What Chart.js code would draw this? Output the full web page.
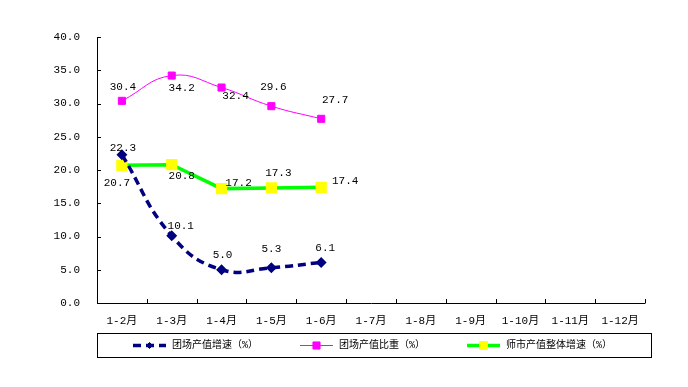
<!DOCTYPE html>
<html>
<head>
<meta charset="utf-8">
<script src="https://cdn.jsdelivr.net/npm/chart.js@4/dist/chart.umd.min.js"></script>
<style>
  html, body { margin: 0; padding: 0; background: #fff; }
  #wrap { width: 688px; height: 387px; }
</style>
</head>
<body>
<div id="wrap"><canvas id="myChart" width="688" height="387"></canvas></div>
<script>
// data
var months = ['1-2月', '1-3月', '1-4月', '1-5月', '1-6月', '1-7月', '1-8月', '1-9月', '1-10月', '1-11月', '1-12月'];
var tuanSpeed = [22.3, 10.1, 5.0, 5.3, 6.1, null, null, null, null, null, null];
var tuanShare = [30.4, 34.2, 32.4, 29.6, 27.7, null, null, null, null, null, null];
var shiSpeed = [20.7, 20.8, 17.2, 17.3, 17.4, null, null, null, null, null, null];
var yTicks = [0, 5, 10, 15, 20, 25, 30, 35, 40];

var FONT = '"Liberation Mono", "Noto Sans CJK SC", monospace';

// where each value label sits relative to its point (dx, dy)
var labelOffsets = [
    [[1, -7], [9, -10], [1, -15], [0, -19], [4, -14]],
    [[1, -14], [10, 13], [14, 9], [2, -19], [14, -19]],
    [[-5, 18], [10, 11], [17, -6], [7, -15], [24, -6]]
];

/* inner tick marks, value labels, legend box */
var extras = {
    id: 'extras',
    afterDatasetsDraw: function (chart) {
        var ctx = chart.ctx;
        var area = chart.chartArea;
        var x = chart.scales.x, y = chart.scales.y;
        ctx.save();
        ctx.strokeStyle = '#000';
        ctx.lineWidth = 1;
        ctx.beginPath();
        ctx.moveTo(area.left + 0.5, area.top);
        ctx.lineTo(area.left + 0.5, area.bottom + 0.5);
        ctx.lineTo(area.right + 0.5, area.bottom + 0.5);
        yTicks.forEach(function (v) {
            var py = Math.round(y.getPixelForValue(v)) + 0.5;
            ctx.moveTo(area.left, py);
            ctx.lineTo(area.left + 4, py);
        });
        var step = (area.right - area.left) / months.length;
        for (var i = 1; i <= months.length; i++) {
            var px = Math.round(area.left + i * step) + 0.5;
            ctx.moveTo(px, area.bottom);
            ctx.lineTo(px, area.bottom - 4);
        }
        ctx.stroke();

        // value labels
        ctx.fillStyle = '#000';
        ctx.font = '11px ' + FONT;
        ctx.textAlign = 'center';
        ctx.textBaseline = 'middle';
        chart.data.datasets.forEach(function (ds, di) {
            ds.data.forEach(function (v, i) {
                if (v === null) return;
                var off = labelOffsets[di][i];
                ctx.fillText(v.toFixed(1), x.getPixelForValue(i) + off[0], y.getPixelForValue(v) + off[1]);
            });
        });

        // legend
        var top = area.bottom + 30, h = 24;
        ctx.strokeStyle = '#000';
        ctx.strokeRect(area.left + 0.5, top + 0.5, area.right - area.left + 6, h);
        var starts = [133, 300, 467];
        ctx.textAlign = 'left';
        ctx.font = '10px ' + FONT;
        chart.data.datasets.forEach(function (ds, di) {
            var sx = starts[di], cy = top + h / 2 + 0.5;
            ctx.save();
            ctx.strokeStyle = ds.borderColor;
            ctx.lineWidth = ds.borderWidth;
            ctx.setLineDash(ds.borderDash || []);
            ctx.beginPath();
            ctx.moveTo(sx, cy);
            ctx.lineTo(sx + 33, cy);
            ctx.stroke();
            ctx.setLineDash([]);
            ctx.fillStyle = ds.pointBackgroundColor;
            ctx.strokeStyle = ds.pointBorderColor;
            ctx.lineWidth = 1;
            Chart.helpers.drawPoint(ctx, {
                pointStyle: ds.pointStyle, radius: ds.pointRadius, borderWidth: 1
            }, sx + 16.5, cy);
            ctx.restore();
            ctx.fillStyle = '#000';
            ctx.fillText(ds.label, sx + 39, cy);
        });
        ctx.restore();
    }
};

const ctx = document.getElementById('myChart');
const myChart = new Chart(ctx, {
    type: 'line',
    data: {
        labels: months,
        datasets: [{
            label: '团场产值增速（%）',
            data: tuanSpeed,
            borderColor: '#000080',
            backgroundColor: '#000080',
            pointBackgroundColor: '#000080',
            pointBorderColor: '#000080',
            borderWidth: 3.5,
            borderDash: [8, 5],
            pointStyle: 'rectRot',
            pointRadius: 3,
            tension: 0.45
        }, {
            label: '团场产值比重（%）',
            data: tuanShare,
            borderColor: '#FF00FF',
            backgroundColor: '#FF00FF',
            pointBackgroundColor: '#FF00FF',
            pointBorderColor: '#FF00FF',
            borderWidth: 1,
            pointStyle: 'rect',
            pointRadius: 5,
            tension: 0.45
        }, {
            label: '师市产值整体增速（%）',
            data: shiSpeed,
            borderColor: '#00FF00',
            backgroundColor: '#FFFF00',
            pointBackgroundColor: '#FFFF00',
            pointBorderColor: '#FFFF00',
            borderWidth: 3.5,
            pointStyle: 'rect',
            pointRadius: 5.5,
            tension: 0
        }]
    },
    options: {
        responsive: false,
        animation: false,
        events: [],
        layout: {
            padding: { left: 0, right: 43, top: 37, bottom: 0 }
        },
        plugins: {
            legend: { display: false },
            tooltip: { enabled: false }
        },
        scales: {
            x: {
                offset: true,
                grid: { display: false, drawTicks: false },
                border: { display: false },
                ticks: {
                    color: '#000',
                    padding: 11,
                    maxRotation: 0,
                    autoSkip: false,
                    font: { family: FONT, size: 11 }
                },
                afterFit: function (scale) { scale.height = 84; }
            },
            y: {
                min: 0,
                max: 40,
                grid: { display: false, drawTicks: false },
                border: { display: false },
                afterBuildTicks: function (scale) {
                    scale.ticks = yTicks.map(function (v) { return { value: v }; });
                },
                ticks: {
                    color: '#000',
                    padding: 17,
                    font: { family: FONT, size: 11 },
                    callback: function (v) { return v.toFixed(1); }
                },
                afterFit: function (scale) { scale.width = 97; }
            }
        }
    },
    plugins: [extras]
});
</script>
</body>
</html>
